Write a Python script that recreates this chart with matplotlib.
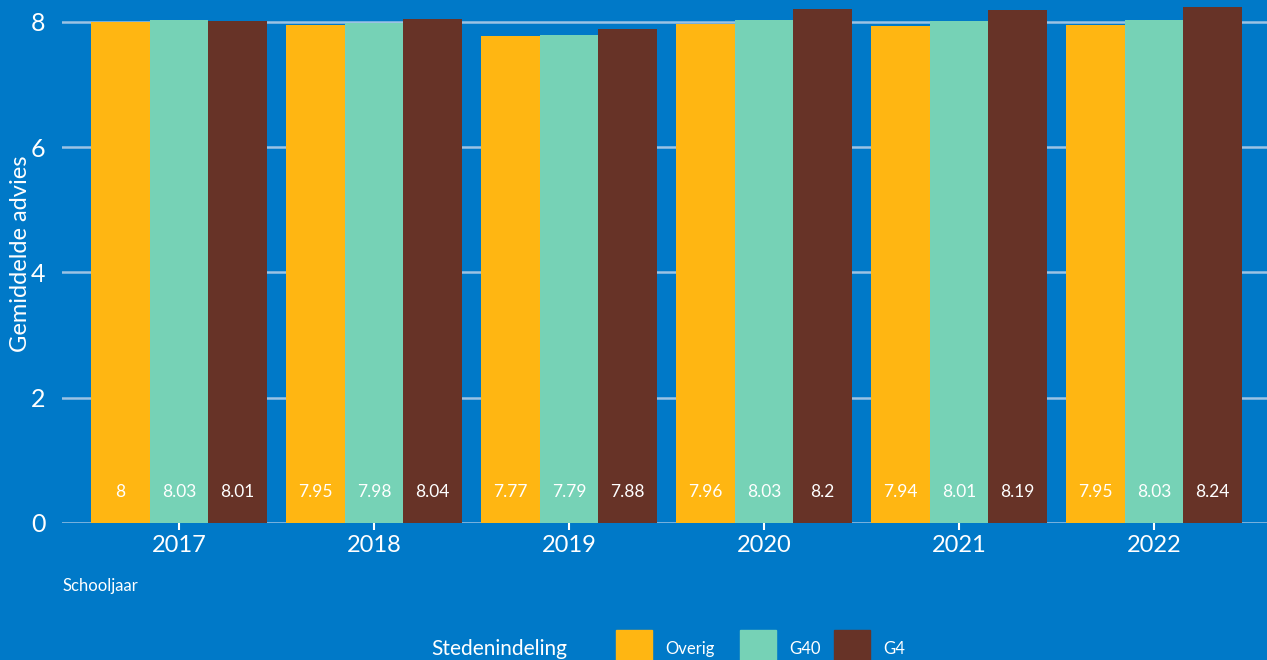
import numpy as np
import matplotlib
matplotlib.use('Agg')
import matplotlib.pyplot as plt
from matplotlib.patches import Rectangle

# Données
jaren = ['2017', '2018', '2019', '2020', '2021', '2022']
groepen = ['Overig', 'G40', 'G4']
overig = [8.00, 7.95, 7.77, 7.96, 7.94, 7.95]
g40 = [8.03, 7.98, 7.79, 8.03, 8.01, 8.03]
g4 = [8.01, 8.04, 7.88, 8.20, 8.19, 8.24]
y_ticks = [0, 2, 4, 6, 8]

# Style
FOND = '#0079C8'
KLEUREN = ['#FFB612', '#76D2B6', '#673327']
plt.rcParams['font.family'] = ['Lato', 'DejaVu Sans']

W, H = 1267, 660
fig = plt.figure(figsize=(W / 100, H / 100), dpi=100, facecolor=FOND)

# Axes: gauche 62 px, bas 523 px, haut 0 px (rogné à droite comme l'original)
ax = fig.add_axes([62 / W, 1 - 523 / H, (1271 - 62) / W, 523 / H])
ax.set_facecolor(FOND)

x = np.arange(len(jaren))
breedte = 0.3
for i, (vals, kleur) in enumerate(zip([overig, g40, g4], KLEUREN)):
    pos = x + (i - 1) * breedte
    ax.bar(pos, vals, width=breedte, color=kleur, zorder=2)
    for xp, v in zip(pos, vals):
        ax.text(xp, 0.5, f'{v:g}', ha='center', va='center',
                color='white', fontsize=12.5, zorder=3)

ax.set_xlim(-0.6, len(jaren) - 0.4)
ax.set_ylim(0, 8.351)
ax.set_yticks(y_ticks)
ax.set_yticklabels([str(t) for t in y_ticks], fontsize=18, color='white')
ax.set_xticks(x)
ax.set_xticklabels(jaren, fontsize=17, color='white')
ax.tick_params(axis='y', length=0, pad=12)
ax.tick_params(axis='x', length=5, width=1.5, color='white', pad=4)
ax.grid(axis='y', color='#9CC3E4', linewidth=1.8, zorder=1)
for s in ax.spines.values():
    s.set_visible(False)

ax.set_ylabel('Gemiddelde advies', fontsize=17, color='white')
ax.yaxis.set_label_coords((31 - 62) / 1209, (523 - 254) / 523)
fig.text(62 / W, 1 - 586 / H, 'Schooljaar', fontsize=12, color='white',
         ha='left', va='center')

# Légende en bas (coupée par le bord comme l'original)
fig.text(431 / W, 1 - 649 / H, 'Stedenindeling', fontsize=15, color='white',
         ha='left', va='center')
sleutel_x = [616, 740, 834]
for naam, kleur, sx in zip(groepen, KLEUREN, sleutel_x):
    fig.patches.append(Rectangle((sx / W, 1 - 666 / H), 36 / W, 36 / H,
                                 transform=fig.transFigure, color=kleur,
                                 figure=fig))
    fig.text((sx + 49) / W, 1 - 649 / H, naam, fontsize=12, color='white',
             ha='left', va='center')

fig.savefig('out.png', dpi=100, facecolor=FOND)
